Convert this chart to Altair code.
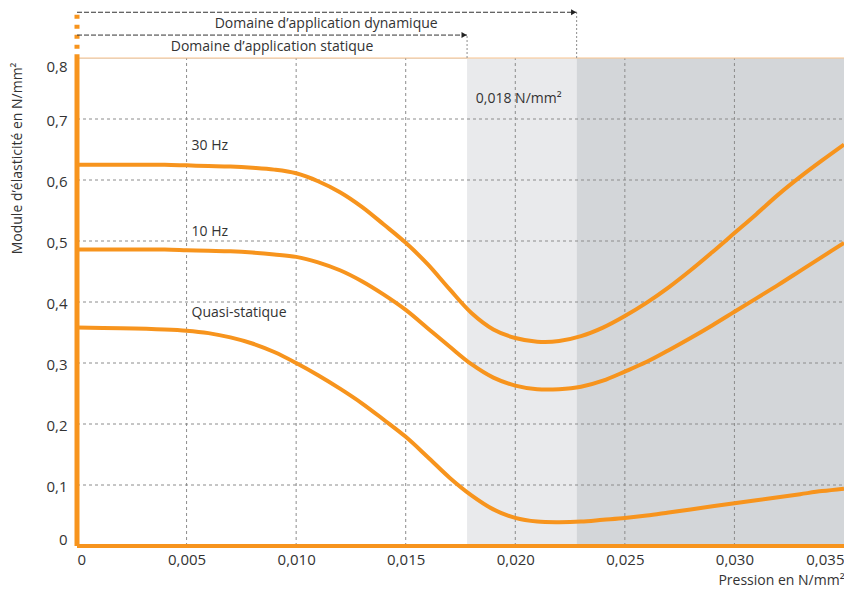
import altair as alt
import pandas as pd

# ---------------- data ----------------
pression = [0, 0.002, 0.004, 0.005, 0.006, 0.007, 0.008, 0.009, 0.010, 0.011,
            0.012, 0.013, 0.014, 0.015, 0.016, 0.017, 0.018, 0.019, 0.020, 0.021,
            0.022, 0.023, 0.024, 0.025, 0.026, 0.027, 0.028, 0.029, 0.030, 0.031,
            0.032, 0.033, 0.034, 0.035]
hz30 = [0.625, 0.625, 0.625, 0.624, 0.623, 0.622, 0.620, 0.617, 0.611, 0.598,
        0.580, 0.556, 0.527, 0.497, 0.462, 0.421, 0.382, 0.355, 0.341, 0.335,
        0.336, 0.344, 0.358, 0.377, 0.399, 0.424, 0.452, 0.482, 0.513, 0.544,
        0.576, 0.605, 0.632, 0.658]
hz10 = [0.486, 0.486, 0.486, 0.485, 0.484, 0.483, 0.481, 0.478, 0.474, 0.465,
        0.452, 0.434, 0.412, 0.387, 0.357, 0.327, 0.298, 0.276, 0.263, 0.257,
        0.257, 0.261, 0.271, 0.286, 0.302, 0.321, 0.341, 0.362, 0.384, 0.406,
        0.428, 0.451, 0.474, 0.497]
quasi = [0.358, 0.357, 0.355, 0.353, 0.349, 0.342, 0.332, 0.318, 0.300, 0.280,
         0.258, 0.234, 0.207, 0.179, 0.146, 0.112, 0.083, 0.060, 0.046, 0.040,
         0.039, 0.040, 0.043, 0.046, 0.050, 0.055, 0.060, 0.065, 0.070, 0.075,
         0.080, 0.085, 0.090, 0.094]

series_names = ["30 Hz", "10 Hz", "Quasi-statique"]
label_x = [0.00523, 0.00523, 0.00523]
label_y = [0.655, 0.514, 0.382]

x_ticks = [0, 0.005, 0.010, 0.015, 0.020, 0.025, 0.030, 0.035]
y_ticks = [0, 0.1, 0.2, 0.3, 0.4, 0.5, 0.6, 0.7, 0.8]
x_grid = [0.005, 0.010, 0.015, 0.020, 0.025, 0.030]
y_grid = [0.1, 0.2, 0.3, 0.4, 0.5, 0.6, 0.7]

static_limit = 0.0178
dynamic_limit = 0.0228
x_max = 0.035
y_max = 0.8

zone_start = [static_limit, dynamic_limit]
zone_end = [dynamic_limit, x_max]
zone_color = ["#e9eaec", "#d3d6d9"]

ORANGE = "#f7941d"
TXT = "#333333"
FONT = "Open Sans"

# ---------------- tables ----------------
curves = pd.DataFrame({
    "x": pression * 3,
    "y": hz30 + hz10 + quasi,
    "serie": [series_names[0]] * len(pression) + [series_names[1]] * len(pression)
             + [series_names[2]] * len(pression),
})
labels = pd.DataFrame({"x": label_x, "y": label_y, "t": series_names})
zones = pd.DataFrame({"x": zone_start, "x2": zone_end, "c": zone_color,
                      "y": [0, 0], "y2": [y_max, y_max]})
gx = pd.DataFrame({"x": x_grid, "y": [0] * len(x_grid), "y2": [y_max] * len(x_grid)})
gy = pd.DataFrame({"y": y_grid, "x": [0] * len(y_grid), "x2": [x_max] * len(y_grid)})

xs = alt.Scale(domain=[0, x_max], nice=False, zero=False)
ys = alt.Scale(domain=[0, y_max], nice=False, zero=False)

x_axis = alt.Axis(values=x_ticks, grid=False, domain=False, ticks=False,
                  labelExpr="datum.value == 0 ? '0' : replace(format(datum.value, '.3f'), '.', ',')",
                  labelFontSize=15, labelColor=TXT, labelFont=FONT, labelPadding=6,
                  labelFlush=True,
                  title="Pression en N/mm²", titleFont=FONT, titleFontSize=14,
                  titleFontWeight="normal", titleColor=TXT, titleX=767, titleY=38,
                  titleAlign="right", titleBaseline="alphabetic")
y_axis = alt.Axis(values=y_ticks, grid=False, domain=False, ticks=False,
                  labelExpr="datum.value == 0 ? '0' : replace(format(datum.value, '.1f'), '.', ',')",
                  labelFontSize=15, labelColor=TXT, labelFont=FONT, labelPadding=10,
                  labelFlush=True, labelOffset=1,
                  title="Module d’élasticité en N/mm²", titleFont=FONT, titleFontSize=14,
                  titleFontWeight="normal", titleColor=TXT, titleX=-60, titleY=4,
                  titleAngle=270, titleAlign="right", titleBaseline="middle")

shade = alt.Chart(zones).mark_rect().encode(
    x=alt.X("x:Q", scale=xs, axis=x_axis), x2="x2:Q",
    y=alt.Y("y:Q", scale=ys, axis=y_axis), y2="y2:Q",
    color=alt.Color("c:N", scale=None),
)

grid_v = alt.Chart(gx).mark_rule(color="#8c8c8c", strokeWidth=1, strokeDash=[3, 3]).encode(
    x="x:Q", y="y:Q", y2="y2:Q")
grid_h = alt.Chart(gy).mark_rule(color="#8c8c8c", strokeWidth=1, strokeDash=[3, 3]).encode(
    y="y:Q", x="x:Q", x2="x2:Q")

lines = alt.Chart(curves).mark_line(color=ORANGE, strokeWidth=4, interpolate="catmull-rom").encode(
    x="x:Q", y="y:Q", detail="serie:N")

curve_text = alt.Chart(labels).mark_text(align="left", baseline="middle", fontSize=14,
                                         font=FONT, color=TXT).encode(
    x="x:Q", y="y:Q", text="t:N")

# threshold annotation inside the plot
thr = pd.DataFrame({"x": [static_limit + 0.0004], "y": [0.733], "t": ["0,018 N/mm²"]})
thr_text = alt.Chart(thr).mark_text(align="left", baseline="middle", fontSize=14,
                                    font=FONT, color=TXT).encode(x="x:Q", y="y:Q", text="t:N")

# top border line (0.8) and thick orange axes
top_line = alt.Chart(pd.DataFrame({"x": [0], "x2": [x_max], "y": [y_max]})).mark_rule(
    color="#f9c48e", strokeWidth=1.2).encode(x="x:Q", x2="x2:Q", y="y:Q")
axis_y = alt.Chart(pd.DataFrame({"x": [0], "y": [0], "y2": [y_max + 0.006]})).mark_rule(
    color=ORANGE, strokeWidth=5).encode(x="x:Q", y="y:Q", y2="y2:Q")
axis_y_ext = alt.Chart(pd.DataFrame({"x": [0], "y": [0.815], "y2": [0.878]})).mark_rule(
    color=ORANGE, strokeWidth=5, strokeDash=[4, 6]).encode(x="x:Q", y="y:Q", y2="y2:Q")
axis_x = alt.Chart(pd.DataFrame({"x": [0], "x2": [x_max], "y": [0]})).mark_rule(
    color=ORANGE, strokeWidth=4).encode(x="x:Q", x2="x2:Q", y="y:Q")

# domain arrows above the plot
arrow_y = [0.8376, 0.875]
arrow_end = [static_limit, dynamic_limit]
arrow_text = ["Domaine d’application statique", "Domaine d’application dynamique"]
arrow_text_x = [0.0089, 0.01137]
arrow_text_y = [0.818, 0.8555]

arr = pd.DataFrame({"x": [0, 0], "x2": arrow_end, "y": arrow_y})
arrows = alt.Chart(arr).mark_rule(color="#333333", strokeWidth=1, strokeDash=[5, 2]).encode(
    x="x:Q", x2="x2:Q", y="y:Q")
heads = alt.Chart(pd.DataFrame({"x": arrow_end, "y": arrow_y})).mark_point(
    shape="triangle-right", filled=True, color="#222222", size=35, opacity=1, xOffset=-3).encode(
    x="x:Q", y="y:Q")
conn = alt.Chart(pd.DataFrame({"x": arrow_end, "y": [y_max, y_max], "y2": arrow_y})).mark_rule(
    color="#8c8c8c", strokeWidth=1, strokeDash=[2, 2]).encode(x="x:Q", y="y:Q", y2="y2:Q")
atext = alt.Chart(pd.DataFrame({"x": arrow_text_x, "y": arrow_text_y, "t": arrow_text})).mark_text(
    align="center", baseline="middle", fontSize=14, font=FONT, color=TXT).encode(
    x="x:Q", y="y:Q", text="t:N")

chart = alt.layer(
    shade, grid_v, grid_h, lines, curve_text, thr_text, top_line,
    axis_y_ext, axis_y, axis_x, conn, arrows, heads, atext
).properties(
    width=767, height=488,
    autosize=alt.AutoSizeParams(type="none"),
    padding={"left": 69, "top": 50, "right": 0, "bottom": 42},
).configure_view(stroke=None).configure(background="white")

chart.save("out.html", embed_options={"renderer": "svg", "actions": False})
